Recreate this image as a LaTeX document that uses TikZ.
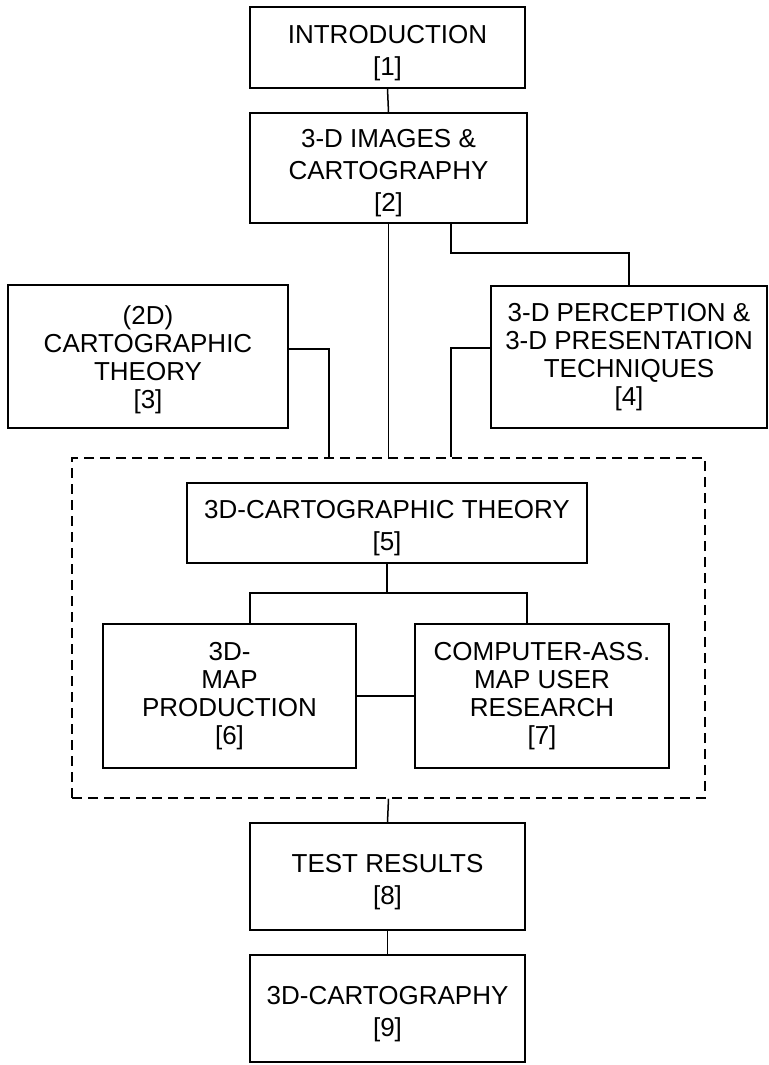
\documentclass[tikz,border=0pt]{standalone}
\usepackage{fontspec}
\setmainfont{Liberation Sans}
\newcommand{\lowr}[1]{\rule{0pt}{#1}}
\begin{document}
\begin{tikzpicture}[x=1pt,y=-1pt,line width=1.5pt,
  box/.style={draw, inner sep=0pt, align=center, font=\fontsize{26}{32}\selectfont},
  tallbox/.style={box, font=\fontsize{26}{28}\selectfont},
  group/.style={draw, dash pattern=on 10pt off 6pt, inner sep=0pt}]
\useasboundingbox (0,0) rectangle (768,1065);
% boxes
\node[box, minimum width=275pt, minimum height=81pt] (b1) at (387.5,47.5) {\lowr{29pt}INTRODUCTION\\{[1]}};
\node[box, minimum width=277pt, minimum height=110pt] (b2) at (388.5,168) {\lowr{29pt}3-D IMAGES \&\\CARTOGRAPHY\\{[2]}};
\node[tallbox, minimum width=280pt, minimum height=143pt] (b3) at (148,356.5) {\lowr{25pt}(2D)\\CARTOGRAPHIC\\THEORY\\{[3]}};
\node[tallbox, minimum width=276pt, minimum height=142pt] (b4) at (629,357) {3-D PERCEPTION \&\\3-D PRESENTATION\\TECHNIQUES\\{[4]}};
\node[group, minimum width=633pt, minimum height=340pt] (grp) at (388.5,628) {};
\node[box, minimum width=400pt, minimum height=80pt] (b5) at (387,523) {\lowr{29pt}3D-CARTOGRAPHIC THEORY\\{[5]}};
\node[tallbox, minimum width=253pt, minimum height=144pt] (b6) at (229.5,696) {3D-\\MAP\\PRODUCTION\\{[6]}};
\node[tallbox, minimum width=254pt, minimum height=144pt] (b7) at (542,696) {COMPUTER-ASS.\\MAP USER\\RESEARCH\\{[7]}};
\node[box, minimum width=275pt, minimum height=107pt] (b8) at (387.5,876.5) {\lowr{29pt}TEST RESULTS\\{[8]}};
\node[box, minimum width=275pt, minimum height=107pt] (b9) at (387.5,1008.5) {\lowr{29pt}3D-CARTOGRAPHY\\{[9]}};
% junction points
\coordinate (j2) at (451,253);
\coordinate (c3) at (329,349);
\coordinate (c4) at (451,348);
\coordinate (k6) at (250,593);
\coordinate (k7) at (527,593);
% connectors
\draw (b1.south) -- (b2.north);
\draw (b2.south) -- (b2.south |- grp.north);
\draw (b2.south -| j2) -- (j2) -| (b4.north);
\draw (b3.east |- c3) -- (c3) -- (c3 |- grp.north);
\draw (b4.west |- c4) -- (c4) -- (c4 |- grp.north);
\draw (b5.south) -- (b5.south |- k6);
\draw (k6 |- b6.north) -- (k6) -- (k7) -- (k7 |- b7.north);
\draw (b6.east) -- (b7.west);
\draw (grp.south) -- (b8.north);
\draw (b8.south) -- (b9.north);
\end{tikzpicture}
\end{document}
